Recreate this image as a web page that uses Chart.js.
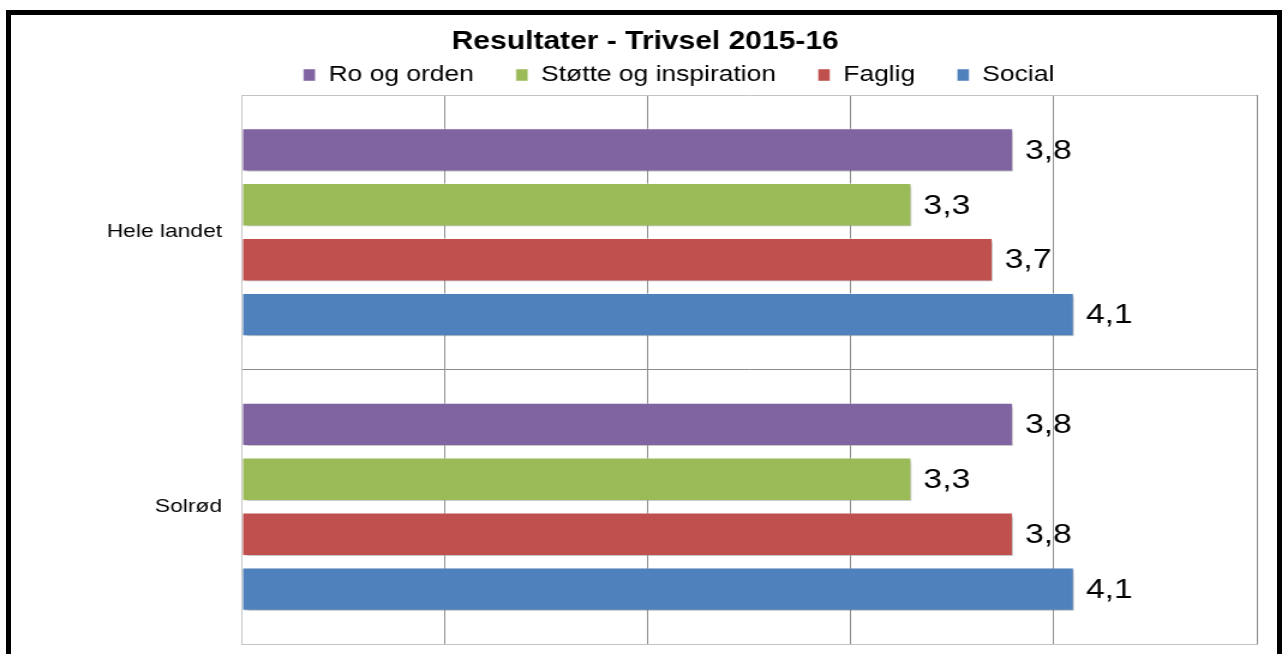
<!DOCTYPE html>
<html>
<head>
<meta charset="utf-8">
<title>Resultater - Trivsel 2015-16</title>
<script src="https://cdn.jsdelivr.net/npm/chart.js@4/dist/chart.umd.min.js"></script>
<style>
  html, body { margin: 0; padding: 0; background: #fff; }
  body { width: 1282px; height: 654px; position: relative; overflow: hidden; }
  #myChart { position: absolute; left: 0; top: 0; }
  .frame {
    position: absolute; left: 6px; top: 10px; width: 1276px; height: 700px;
    box-sizing: border-box; border: 5px solid #000; border-bottom: none;
    pointer-events: none;
  }
</style>
</head>
<body>
<!-- the source picture is stretched sideways, so the chart is drawn narrower and widened by css -->
<canvas id="myChart" width="1068" height="654" style="width:1282px;height:654px"></canvas>
<div class="frame"></div>
<script>
const categories = ['Hele landet', 'Solrød'];
const seriesNames = ['Ro og orden', 'Støtte og inspiration', 'Faglig', 'Social'];
const roOgOrden = [3.8, 3.8];
const stoetteOgInspiration = [3.3, 3.3];
const faglig = [3.7, 3.8];
const social = [4.1, 4.1];
const seriesColors = ['#8064a2', '#9bbb59', '#c0504d', '#4f81bd'];
const xMin = 0;
const xMax = 5;

const font = "'Liberation Sans', Arial, sans-serif";

const data = {
    labels: categories,
    datasets: [roOgOrden, stoetteOgInspiration, faglig, social].map((values, i) => ({
        label: seriesNames[i],
        data: values,
        backgroundColor: seriesColors[i],
        borderColor: 'rgba(255,255,255,0.45)',
        borderWidth: 1,
        borderSkipped: false,
        categoryPercentage: 0.8,
        barPercentage: 0.79
    }))
};

// soft shadow under the bars + "3,8" style labels
const barExtras = {
    id: 'barExtras',
    afterLayout(chart) {
        // legend sits a bit right of the title in the original
        chart.legend.left += 28;
        chart.legend.right += 28;
    },
    beforeDatasetsDraw(chart) {
        let ctx = chart.ctx;
        ctx.save();
        ctx.shadowColor = 'rgba(0,0,0,0.3)';
        ctx.shadowOffsetX = 2;
        ctx.shadowOffsetY = 2;
        ctx.shadowBlur = 3;
    },
    afterDatasetsDraw(chart) {
        let ctx = chart.ctx;
        ctx.restore();
        ctx.save();
        ctx.font = '28px ' + font;
        ctx.fillStyle = '#000';
        ctx.textAlign = 'left';
        ctx.textBaseline = 'middle';
        chart.data.datasets.forEach((ds, i) => {
            chart.getDatasetMeta(i).data.forEach((bar, j) => {
                let txt = ds.data[j].toFixed(1).replace('.', ',');
                ctx.fillText(txt, bar.x + 10, bar.y + 1);
            });
        });
        ctx.restore();
    }
};

const options = {
    indexAxis: 'y',
    responsive: false,
    animation: false,
    layout: { padding: { left: 28, right: 21, top: 0, bottom: 10 } },
    plugins: {
        title: {
            display: true,
            text: 'Resultater - Trivsel 2015-16',
            color: '#000',
            font: { family: font, size: 25, weight: 'bold' },
            padding: { top: 27, bottom: -28 }
        },
        legend: {
            position: 'top',
            maxHeight: 66,
            labels: {
                color: '#000',
                font: { family: font, size: 22 },
                boxWidth: 10,
                boxHeight: 12,
                padding: 35
            }
        },
        tooltip: { enabled: false }
    },
    scales: {
        x: {
            min: xMin,
            max: xMax,
            ticks: { display: false, stepSize: 1 },
            grid: {
                drawTicks: false,
                color: (c) => c.index === 0 ? '#c4c4c4' : '#8c8c8c'
            },
            border: { color: '#c4c4c4' }
        },
        y: {
            afterFit(scale) {
                scale.width = 173;
                scale.paddingTop = 0;
                scale.paddingBottom = 0;
            },
            ticks: {
                color: '#000',
                padding: 16,
                font: { family: font, size: 19 }
            },
            grid: {
                drawTicks: false,
                color: (c) => c.index === 1 ? '#8c8c8c' : '#c4c4c4'
            },
            border: { color: '#c4c4c4' }
        }
    }
};

new Chart(document.getElementById('myChart'), {
    type: 'bar',
    data,
    options,
    plugins: [barExtras]
});
</script>
</body>
</html>
